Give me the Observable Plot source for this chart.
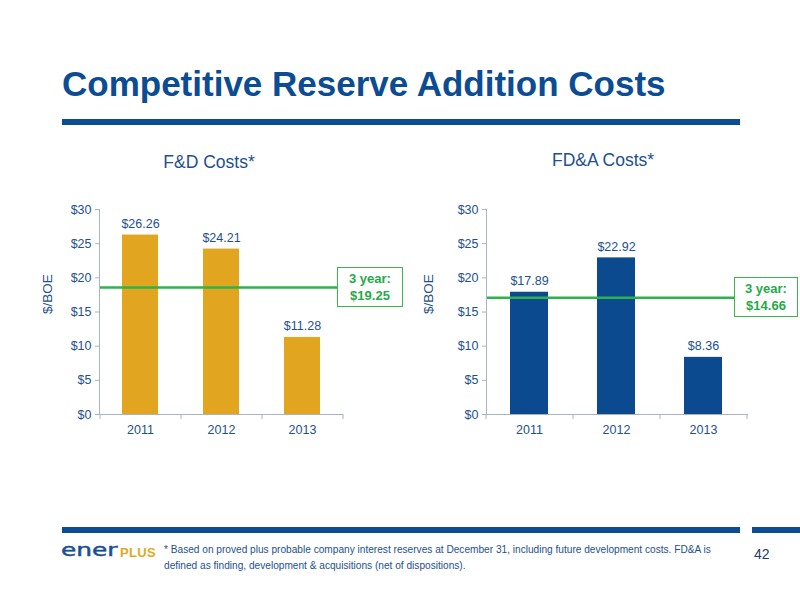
<!DOCTYPE html>
<html>
<head>
<meta charset="utf-8">
<script src="https://cdn.jsdelivr.net/npm/d3@7"></script>
<script src="https://cdn.jsdelivr.net/npm/@observablehq/plot@0.6"></script>
<style>
  html, body { margin: 0; padding: 0; background: #fff; }
  body { width: 800px; height: 600px; position: relative; overflow: hidden; font-family: "Liberation Sans", Arial, sans-serif; }
  .abs { position: absolute; }
  #title { left: 62px; top: 64px; font-size: 35px; font-weight: bold; color: #0b4c93; white-space: nowrap; }
  .rule { background: #0b4c93; height: 6px; }
  .sub { font-size: 17.5px; color: #1d4f91; white-space: nowrap; transform: translateX(-50%); }
  .box { border: 1.5px solid #3db54a; background: #fff; color: #24aa48; font-weight: bold; font-size: 13px; line-height: 17px; text-align: center; box-sizing: border-box; padding-top: 2px; }
  #logoE { left: 61px; top: 540px; font-family: "DejaVu Sans", sans-serif; font-size: 18px; line-height: 20px; color: #1b4f95; transform-origin: 0 0; transform: scaleX(1.38); white-space: nowrap; -webkit-text-stroke: 0.5px #1b4f95; }
  #logoP { left: 120px; top: 546px; font-size: 13px; line-height: 14px; font-weight: bold; color: #e3a81c; white-space: nowrap; letter-spacing: 0.3px; }
  #note { left: 164px; top: 541px; font-size: 11px; line-height: 16px; color: #1d4f91; white-space: nowrap; transform-origin: 0 0; transform: scaleX(0.92); }
  #page { left: 754px; top: 546px; font-size: 14px; color: #1d3d6b; }
</style>
</head>
<body>
<div id="title" class="abs">Competitive Reserve Addition Costs</div>
<div class="abs rule" style="left:62px; top:119px; width:678px;"></div>

<div id="sub1" class="abs sub" style="left:209px; top:152px;"></div>
<div id="sub2" class="abs sub" style="left:603px; top:150px;"></div>

<div id="chart1" class="abs" style="left:0px; top:190px;"></div>
<div id="chart2" class="abs" style="left:400px; top:190px;"></div>

<div id="box1" class="abs box" style="left:337px; top:267px; width:66px; height:40px;"></div>
<div id="box2" class="abs box" style="left:734px; top:277px; width:64px; height:40px;"></div>

<div class="abs rule" style="left:62px; top:527px; width:678px;"></div>
<div class="abs rule" style="left:752px; top:527px; width:48px;"></div>

<div id="logoE" class="abs">ener</div>
<div id="logoP" class="abs">PLUS</div>
<div id="note" class="abs"></div>
<div id="page" class="abs"></div>

<script>
// ---- data ----
const years = ["2011", "2012", "2013"];
const fdCosts = [26.26, 24.21, 11.28];
const fdaCosts = [17.89, 22.92, 8.36];
const chartTitles = ["F&D Costs*", "FD&A Costs*"];
const threeYearLabels = ["$19.25", "$14.66"];
const threeYearLineLevels = [18.6, 17.1]; // level where the green line is drawn in the picture
const yTicks = [0, 5, 10, 15, 20, 25, 30];
const yLabel = "$/BOE";
const footnote = ["* Based on proved plus probable company interest reserves at December 31, including future development costs.  FD&A is",
                  "defined as finding, development & acquisitions (net of dispositions)."];
const pageNumber = "42";

// ---- styles ----
const textColor = "#1d4f91";
const axisColor = "#aab3c2";
const green = "#2db34a";
const barColors = ["#e1a51f", "#0b4a8e"];

function makeChart(values, opts) {
  const data = years.map((y, i) => ({year: y, value: values[i]}));
  const innerW = opts.width - opts.marginLeft - opts.marginRight;
  const step = innerW / years.length;
  return Plot.plot({
    width: opts.width,
    height: 250,
    marginLeft: opts.marginLeft,
    marginRight: opts.marginRight,
    marginTop: 19,
    marginBottom: 26,
    style: {fontFamily: "Liberation Sans, Arial, sans-serif", color: textColor, background: "transparent", overflow: "visible"},
    x: {type: "band", domain: years, paddingInner: 0.56, paddingOuter: 0.28},
    y: {domain: [0, 30]},
    marks: [
      Plot.barY(data, {x: "year", y: "value", fill: opts.fill}),
      Plot.ruleY([opts.level], {stroke: green, strokeWidth: 2.5}),
      Plot.frame({anchor: "left", stroke: axisColor}),
      Plot.frame({anchor: "bottom", stroke: axisColor}),
      Plot.axisY({ticks: yTicks, tickFormat: d => "$" + d, tickSize: 4, tickPadding: 4, stroke: axisColor, fill: textColor, fontSize: 12.5, label: null}),
      Plot.axisX({tickSize: 0, tickPadding: 11, fill: textColor, fontSize: 12.5, label: null}),
      Plot.axisX({tickSize: 5, tickFormat: () => "", dx: -step / 2, stroke: axisColor, label: null}),
      Plot.axisX({ticks: [years[years.length - 1]], tickSize: 5, tickFormat: () => "", dx: step / 2, stroke: axisColor, label: null}),
      Plot.text(data, {x: "year", y: "value", text: d => "$" + d.value.toFixed(2), dy: -11, fill: textColor, fontSize: 12.5}),
      Plot.text([yLabel], {frameAnchor: "left", textAnchor: "middle", text: d => d, dx: opts.labelDx, dy: -18, rotate: -90, fill: textColor, fontSize: 13.5})
    ]
  });
}

document.getElementById("chart1").append(makeChart(fdCosts, {width: 400, marginLeft: 99, marginRight: 58, fill: barColors[0], level: threeYearLineLevels[0], labelDx: -52}));
document.getElementById("chart2").append(makeChart(fdaCosts, {width: 400, marginLeft: 86, marginRight: 53, fill: barColors[1], level: threeYearLineLevels[1], labelDx: -58}));

document.getElementById("sub1").textContent = chartTitles[0];
document.getElementById("sub2").textContent = chartTitles[1];
document.getElementById("box1").innerHTML = "3 year:<br>" + threeYearLabels[0];
document.getElementById("box2").innerHTML = "3 year:<br>" + threeYearLabels[1];
document.getElementById("note").innerHTML = footnote.join("<br>").replace(/&(?!amp;)/g, "&amp;");
document.getElementById("page").textContent = pageNumber;
</script>
</body>
</html>
